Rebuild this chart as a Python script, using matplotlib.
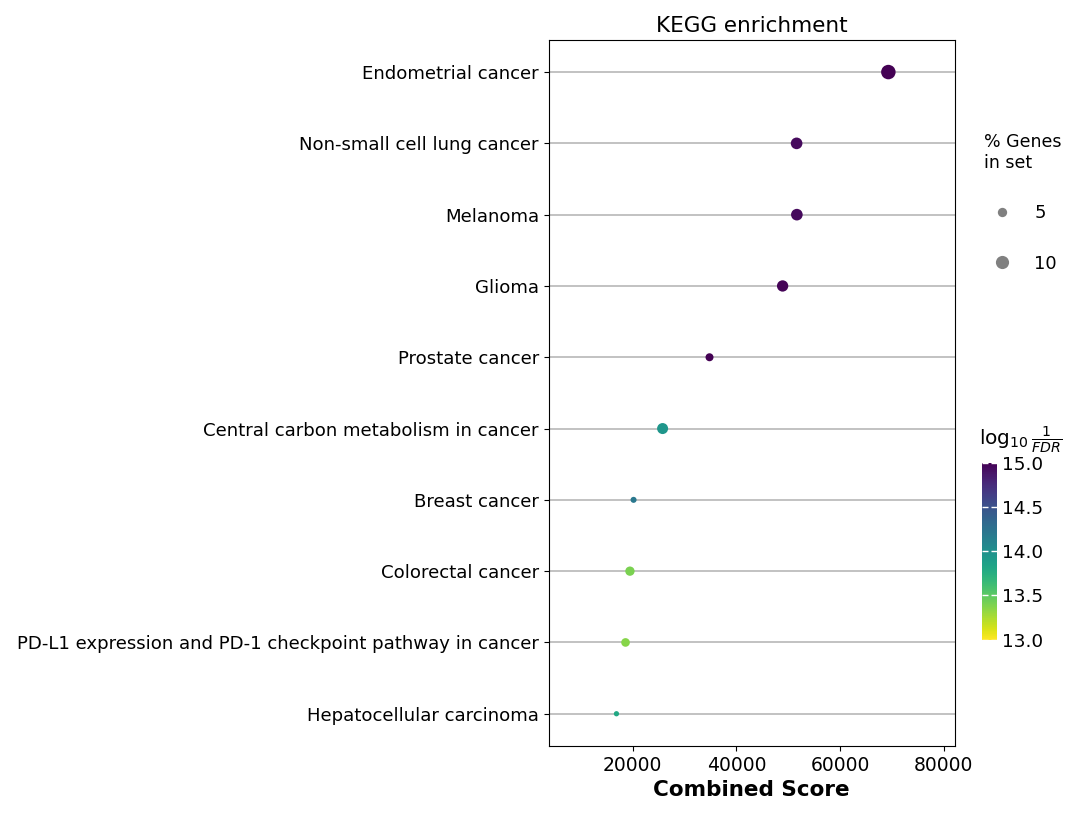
import numpy as np
import matplotlib
matplotlib.use("Agg")
import matplotlib.pyplot as plt
from matplotlib.lines import Line2D

terms = ["Endometrial cancer", "Non-small cell lung cancer", "Melanoma", "Glioma",
         "Prostate cancer", "Central carbon metabolism in cancer", "Breast cancer",
         "Colorectal cancer", "PD-L1 expression and PD-1 checkpoint pathway in cancer",
         "Hepatocellular carcinoma"]
combined_score = [69300, 51600, 51650, 48900, 34800, 25750, 20150, 19450, 18600, 16850]
log_fdr = [15.0, 14.95, 14.95, 14.98, 15.0, 13.95, 14.2, 13.4, 13.36, 13.8]
pct_genes = [12.1, 7.8, 7.8, 7.4, 3.7, 7.0, 2.1, 5.0, 4.3, 1.6]
legend_sizes = [5, 10]

scale = 9

fig = plt.figure(figsize=(10.8, 8.16), dpi=100)
ax = fig.add_axes([0.508, 0.086, 0.376, 0.865])

ax.grid(axis="y", color="#bdbdbd", lw=1.3, zorder=0)
sc = ax.scatter(combined_score, terms, s=np.array(pct_genes) * scale, c=log_fdr,
                cmap="viridis_r", vmin=13, vmax=15, zorder=3, edgecolors="none")
ax.invert_yaxis()
ax.set_ylim(9.45, -0.45)
ax.set_xlim(3768, 82100)
ax.set_xticks([20000, 40000, 60000, 80000])
ax.tick_params(axis="y", labelsize=13.1)
ax.tick_params(axis="x", labelsize=13.5)
ax.set_title("KEGG enrichment", fontsize=15.5)
ax.set_xlabel("Combined Score", fontsize=15.5, fontweight="bold")

# colorbar
cax = fig.add_axes([0.909, 0.216, 0.014, 0.217])
cbar = fig.colorbar(sc, cax=cax, ticks=[13.0, 13.5, 14.0, 14.5, 15.0])
cbar.outline.set_visible(False)
cax.tick_params(direction="in", left=True, right=True, color="white",
                length=4, width=1, labelsize=13.3)
cax.set_title(r"$\log_{10}\frac{1}{FDR}$", fontsize=14.5, loc="left", x=-0.2, pad=13)

# size legend
handles = [Line2D([], [], ls="", marker="o", color="gray", mec="none",
                  markersize=np.sqrt(v * scale)) for v in legend_sizes]
fig.legend(handles, [str(v) for v in legend_sizes], title="% Genes\nin set",
           loc="upper left", bbox_to_anchor=(0.896, 0.857), frameon=False,
           fontsize=13, title_fontsize=12.5, labelspacing=1.8,
           handletextpad=0.8, alignment="left")

fig.savefig("out.png", dpi=100)
